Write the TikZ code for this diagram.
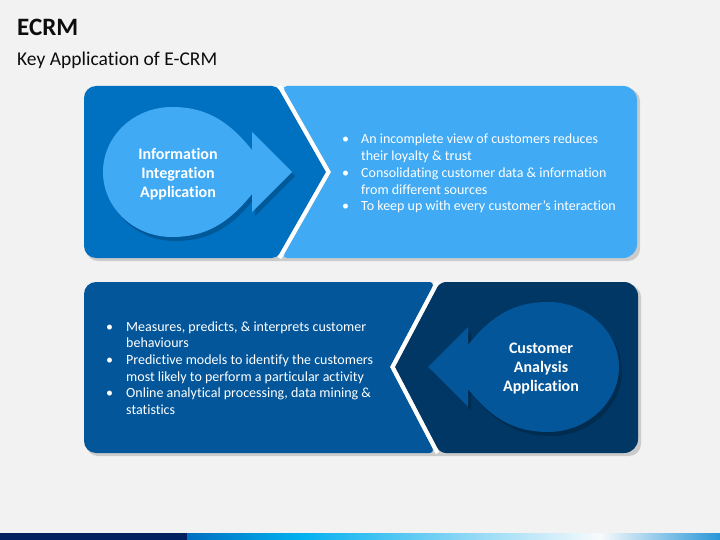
\documentclass[tikz,border=0pt]{standalone}
\usepackage{fontspec}
\setmainfont{Carlito}[Ligatures={NoCommon}]
\definecolor{bg}{HTML}{F2F2F2}
\definecolor{topdark}{HTML}{0070C0}
\definecolor{toplight}{HTML}{41AAF5}
\definecolor{botmid}{HTML}{03569A}
\definecolor{botdark}{HTML}{003764}
\definecolor{barnavy}{HTML}{002060}
\definecolor{titlec}{HTML}{0D0D0D}
\begin{document}
\begin{tikzpicture}[x=1pt,y=-1pt,
  panelshadow/.style={fill=black,opacity=0.16},
  dropshadow/.style={fill=black,opacity=0.2},
  gapline/.style={draw=white,line width=4pt},
  tdtext/.style={text=white,font=\fontsize{16}{19}\selectfont\bfseries,align=center,inner sep=0pt},
  bullettext/.style={text=white,font=\fontsize{14}{16.7}\selectfont,inner sep=0pt,anchor=base west},
  titletext/.style={text=titlec,inner sep=0pt,anchor=base west}]
\useasboundingbox (0,0) rectangle (720,540);
\fill[bg] (0,0) rectangle (720,540);

% titles
\node[titletext,font=\fontsize{25}{28}\selectfont\bfseries] (title) at (17,35.5) {ECRM};
\node[titletext,font=\fontsize{19.5}{22}\selectfont] (subtitle) at (17,66) {Key Application of E-CRM};

% ---------- top panel ----------
\fill[panelshadow,rounded corners=12] (86,89) rectangle (640,261);
\fill[toplight] (331,172) [rounded corners=5] -- (282,86) [rounded corners=14] -- (637,86) -- (637,258) [rounded corners=5] -- (282,258) [sharp corners] -- cycle;
\fill[topdark] (326,172) [rounded corners=5] -- (277,258) [rounded corners=12] -- (84,258) -- (84,86) [rounded corners=5] -- (277,86) [sharp corners] -- cycle;
\draw[gapline] (279.5,86) -- (328.5,172) -- (279.5,258);
% teardrop
\fill[dropshadow] (255,154) .. controls (231,124) and (208,111) .. (175,111) .. controls (137,111) and (106,140) .. (106,176) .. controls (106,212) and (137,241) .. (175,241) .. controls (208,241) and (231,228) .. (255,198) -- (255,216) -- (295,176) -- (255,136) -- cycle;
\fill[toplight] (252,150) .. controls (228,120) and (205,107) .. (172,107) .. controls (134,107) and (103,136) .. (103,172) .. controls (103,208) and (134,237) .. (172,237) .. controls (205,237) and (228,224) .. (252,194) -- (252,212) -- (292,172) -- (252,132) -- cycle;
\node[tdtext] (info) at (178,174) {Information\\Integration\\Application};
\node[bullettext] (toplist) at (342,144) {\begin{tabular}[t]{@{}p{19pt}@{}l@{}}
\textbullet & An incomplete view of customers reduces\\
 & their loyalty \& trust\\
\textbullet & Consolidating customer data \& information\\
 & from different sources\\
\textbullet & To keep up with every customer’s interaction
\end{tabular}};

% ---------- bottom panel ----------
\fill[panelshadow,rounded corners=12] (86,285) rectangle (641,456);
\fill[botmid] (390,367) [rounded corners=6] -- (435,282) [rounded corners=12] -- (84,282) -- (84,453) [rounded corners=6] -- (435,453) [sharp corners] -- cycle;
\fill[botdark] (395,367) [rounded corners=6] -- (440,282) [rounded corners=14] -- (638,282) -- (638,453) [rounded corners=6] -- (440,453) [sharp corners] -- cycle;
\draw[gapline] (437.5,282) -- (392.5,367) -- (437.5,453);
% teardrop
\fill[dropshadow] (471,349) .. controls (495,319) and (518,306) .. (551,306) .. controls (589,306) and (622,335) .. (622,371) .. controls (622,407) and (589,436) .. (551,436) .. controls (518,436) and (495,423) .. (471,393) -- (471,411) -- (431,371) -- (471,331) -- cycle;
\fill[botmid] (468,345) .. controls (492,315) and (515,302) .. (548,302) .. controls (586,302) and (619,331) .. (619,367) .. controls (619,403) and (586,432) .. (548,432) .. controls (515,432) and (492,419) .. (468,389) -- (468,407) -- (428,367) -- (468,327) -- cycle;
\node[tdtext] (cust) at (541,369) {Customer\\Analysis\\Application};
\node[bullettext] (botlist) at (106,331) {\begin{tabular}[t]{@{}p{20pt}@{}l@{}}
\textbullet & Measures, predicts, \& interprets customer\\
 & behaviours\\
\textbullet & Predictive models to identify the customers\\
 & most likely to perform a particular activity\\
\textbullet & Online analytical processing, data mining \&\\
 & statistics
\end{tabular}};

% ---------- bottom bar ----------
\fill[barnavy] (0,533) rectangle (187,540);
\shade[left color={rgb,255:red,0;green,112;blue,192},right color={rgb,255:red,0;green,176;blue,240}] (187,533) rectangle (300,540);
\shade[left color={rgb,255:red,0;green,176;blue,240},right color={rgb,255:red,127;green,211;blue,245}] (299.5,533) rectangle (450,540);
\shade[left color={rgb,255:red,127;green,211;blue,245},right color={rgb,255:red,248;green,250;blue,252}] (449.5,533) rectangle (600,540);
\shade[left color={rgb,255:red,248;green,250;blue,252},right color={rgb,255:red,40;green,150;blue,215}] (599.5,533) rectangle (720,540);
\end{tikzpicture}
\end{document}
